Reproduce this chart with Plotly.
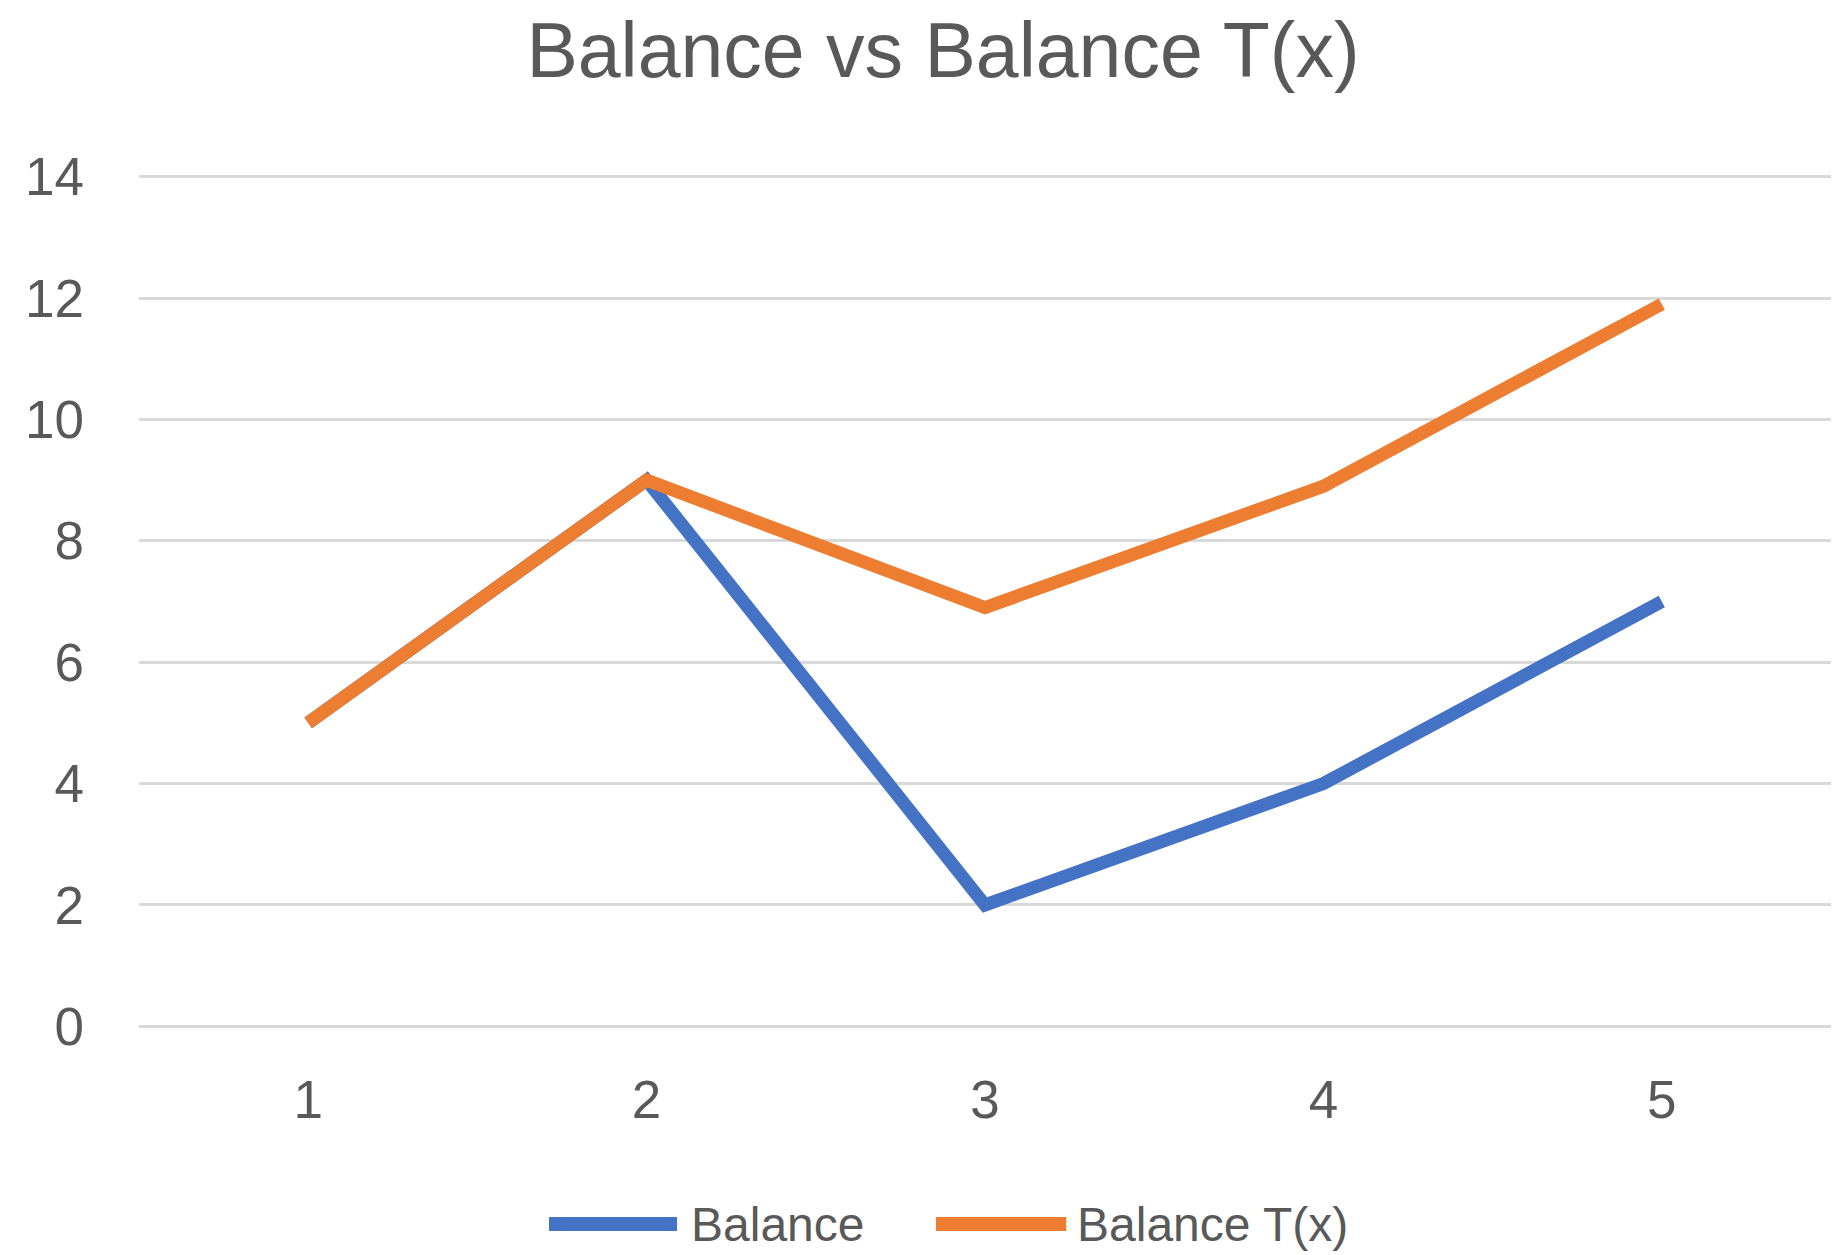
import plotly.graph_objects as go

x_vals = [1, 2, 3, 4, 5]
balance = [5, 9, 2, 4, 7]
balance_tx = [5, 9, 6.9, 8.9, 11.9]
y_ticks = [0, 2, 4, 6, 8, 10, 12, 14]
series_names = ["Balance", "Balance T(x)"]
series_colors = ["#4472C4", "#ED7D31"]

FONT = "Liberation Sans, Arial, sans-serif"
TXT = "#595959"

W, H = 1839, 1247  # page has an 8px body margin

fig = go.Figure()
for name, vals, col in zip(series_names, [balance, balance_tx], series_colors):
    fig.add_trace(go.Scatter(
        x=x_vals, y=vals, mode="lines", name=name,
        line=dict(color=col, width=13),
        showlegend=False,
    ))

# custom legend (long swatches like the original)
legend_items = [
    (0.2423, 0.318, 0.325),
    (0.471, 0.548, 0.5532),
]
ly = -0.2264
for (x0, x1, tx), name, col in zip(legend_items, series_names, series_colors):
    fig.add_shape(type="line", xref="paper", yref="paper", x0=x0, x1=x1, y0=ly, y1=ly,
                  line=dict(color=col, width=14))
    fig.add_annotation(xref="paper", yref="paper", x=tx, y=ly, text=name,
                       showarrow=False, xanchor="left", yanchor="middle",
                       font=dict(family=FONT, size=48, color=TXT))

pad = 0.06
fig.update_layout(
    width=W, height=H,
    margin=dict(l=131, r=16, t=165, b=225),
    paper_bgcolor="white", plot_bgcolor="white",
    title=dict(text="Balance vs Balance T(x)", x=935 / W, xref="container",
               y=1 - 42 / H, yref="container", xanchor="center", yanchor="middle",
               font=dict(family=FONT, size=77, color=TXT)),
    font=dict(family=FONT, color=TXT),
    xaxis=dict(range=[0.5, 5.5], tickvals=x_vals, showgrid=False, zeroline=False,
               showline=False, ticks="", ticklabelstandoff=34,
               tickfont=dict(family=FONT, size=53, color=TXT)),
    yaxis=dict(range=[-pad, 14 + pad], tickvals=y_ticks, showgrid=True, gridcolor="#D9D9D9",
               gridwidth=3, zeroline=False, showline=False, ticks="",
               ticklabelstandoff=54,
               tickfont=dict(family=FONT, size=53, color=TXT)),
)

fig.write_html("out.html")
